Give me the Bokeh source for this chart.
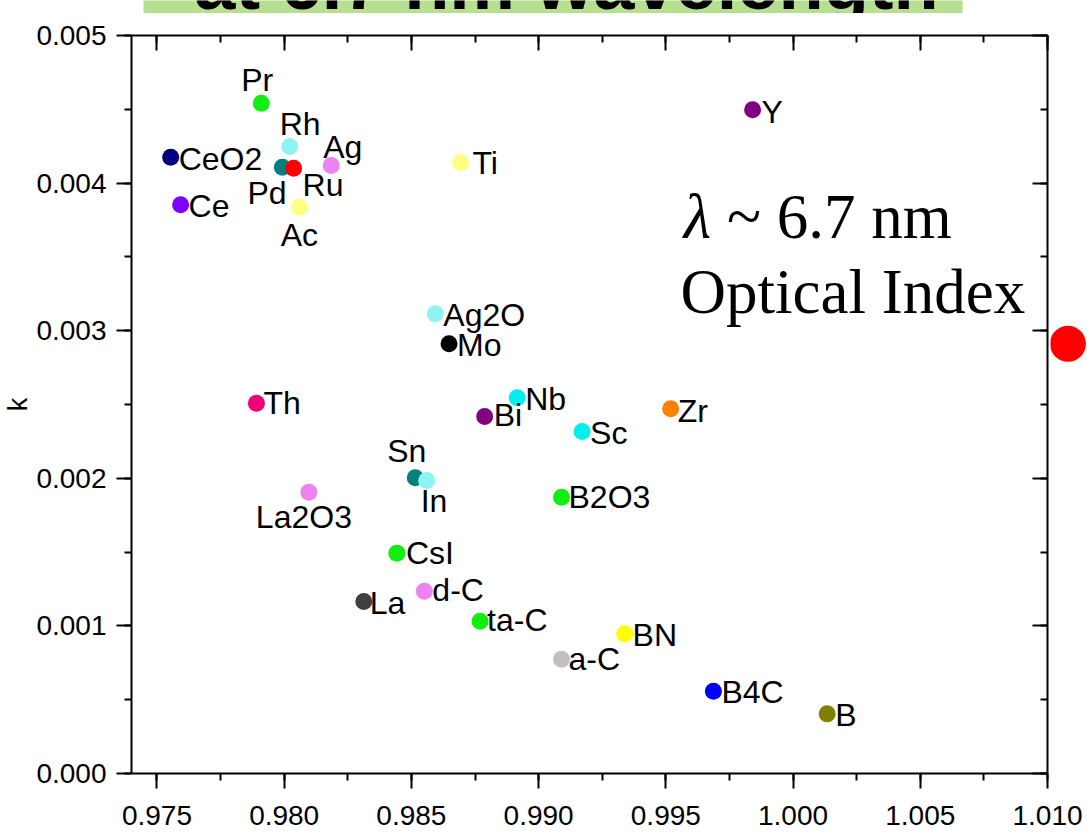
from bokeh.plotting import figure
from bokeh.layouts import column, row
from bokeh.models import (ColumnDataSource, LinearAxis, SingleIntervalTicker,
                          NumeralTickFormatter, CustomJSTickFormatter, Label, Range1d)
from bokeh.core.properties import value
from bokeh.embed import file_html
from bokeh.resources import INLINE

# ---- data (n = real part, k = imaginary part of refractive index at 6.7 nm) ----
materials = ["Pr", "Rh", "CeO2", "Pd", "Ru", "Ag", "Ce", "Ac", "Ti", "Y",
             "Ag2O", "Mo", "Th", "Nb", "Bi", "Sc", "Zr", "Sn", "In", "La2O3",
             "B2O3", "CsI", "La", "d-C", "ta-C", "BN", "a-C", "B4C", "B"]
n_values = [0.97910, 0.98022, 0.97554, 0.97993, 0.98037, 0.98185, 0.97593, 0.98061, 0.98693, 0.99841,
            0.98594, 0.98648, 0.97891, 0.98916, 0.98788, 0.99171, 0.99519, 0.98515, 0.98560, 0.98097,
            0.99090, 0.98443, 0.98313, 0.98551, 0.98770, 0.99338, 0.99090, 0.99687, 1.00134]
k_values = [0.004541, 0.004248, 0.004175, 0.004108, 0.004101, 0.004119, 0.003853, 0.003837, 0.004140, 0.004497,
            0.003114, 0.002911, 0.002509, 0.002545, 0.002419, 0.002317, 0.002471, 0.002003, 0.001985, 0.001906,
            0.001872, 0.001493, 0.001165, 0.001235, 0.001032, 0.000946, 0.000774, 0.000558, 0.000404]
colors = ["#11ee11", "#8ef3f3", "#000080", "#008080", "#ff0000", "#ee82ee", "#8000ff", "#ffff80", "#ffff80", "#800080",
          "#8ef3f3", "#000000", "#ee0077", "#00eeee", "#800080", "#00eeee", "#ff8000", "#008080", "#8ef3f3", "#ee82ee",
          "#11ee11", "#11ee11", "#404040", "#ee82ee", "#11ee11", "#ffff00", "#c0c0c0", "#0000ff", "#808000"]

# label placement (screen pixel offsets from the point)
label_dx = [-20, -10, 8, -35, 9, -8, 8, -19, 12, 9,
            8, 8, 7, 8, 9, 8, 7, -28, -6, -53,
            7, 9, 6, 8, 7, 8, 7, 8, 8]
label_dy = [-23, -22, 2, 26, 17, -19, 1, 28, 1, 2,
            1, 1, 0, 1, -1, 1, 2, -27, 20, 25,
            0, 0, 1, -1, -1, 1, 0, 1, 1]

x_ticks_interval = 0.005
y_ticks_interval = 0.001
x_limits = (0.974, 1.010)
y_limits = (0.0, 0.005)

# red pointer dot drawn beside the plot
marker_n, marker_k = [1.0108], [0.002911]

# ---- layout sizes (px) ----
W, H = 1087, 840
banner_h = 13
side_w = 37
b_left, b_right, b_top, b_bottom = 128, 40, 22, 67
frame_w = W - b_left - b_right
px_per_x = frame_w / (x_limits[1] - x_limits[0])

tick_font = "Liberation Sans"

def style_axis(ax, inward, show_labels):
    ax.axis_line_width = 2
    ax.axis_line_color = "black"
    ax.major_tick_line_width = 2
    ax.minor_tick_line_width = 2
    ax.major_tick_line_color = "black"
    ax.minor_tick_line_color = "black"
    if inward:
        ax.major_tick_in, ax.major_tick_out = 15, 0
        ax.minor_tick_in, ax.minor_tick_out = 7, 0
    else:
        ax.major_tick_in, ax.major_tick_out = 0, 15
        ax.minor_tick_in, ax.minor_tick_out = 0, 7
    ax.major_label_text_font = tick_font
    ax.major_label_text_color = "black"
    if show_labels:
        ax.major_label_text_font_size = "28px"
    else:
        ax.formatter = CustomJSTickFormatter(code="return ''")
        ax.major_label_text_font_size = "8px"
        ax.major_label_standoff = 0

# ---- banner (slide title, cut off at the top) ----
banner = figure(width=W, height=banner_h, x_range=Range1d(0, 1), y_range=Range1d(0, 1),
                output_backend="svg", toolbar_location=None,
                x_axis_location=None, y_axis_location=None,
                min_border_left=143, min_border_right=125, min_border_top=0, min_border_bottom=0)
banner.xgrid.visible = False
banner.ygrid.visible = False
banner.outline_line_color = None
banner.background_fill_color = "#b6df8f"
banner.border_fill_color = "white"
banner.text(x=[0.5165], y=[2.3], text=["at 6.7 nm wavelength"],
            text_font=value("Liberation Sans"), text_font_style="bold", text_font_size="74px",
            text_align="center", text_baseline="alphabetic", text_color="black")

# ---- main plot ----
src = ColumnDataSource(dict(x=n_values, y=k_values, name=materials, color=colors,
                            dx=label_dx, dy=label_dy))

p = figure(width=W, height=H - banner_h, x_range=Range1d(*x_limits), y_range=Range1d(*y_limits),
           output_backend="svg", toolbar_location=None,
           min_border_left=b_left, min_border_right=b_right, min_border_top=b_top, min_border_bottom=b_bottom)
p.xgrid.visible = False
p.ygrid.visible = False
p.outline_line_color = None
p.background_fill_color = "white"
p.border_fill_color = "white"

xa = p.xaxis[0]
xa.ticker = SingleIntervalTicker(interval=x_ticks_interval, num_minor_ticks=2)
xa.formatter = NumeralTickFormatter(format="0.000")
style_axis(xa, False, True)
xa.major_label_standoff = 17

ya = p.yaxis[0]
ya.ticker = SingleIntervalTicker(interval=y_ticks_interval, num_minor_ticks=2)
ya.formatter = NumeralTickFormatter(format="0.000")
style_axis(ya, False, True)
ya.major_label_standoff = 10
ya.axis_label = "k"
ya.axis_label_text_font = "Liberation Sans"
ya.axis_label_text_font_style = "normal"
ya.axis_label_text_font_size = "27px"
ya.axis_label_text_color = "black"
ya.axis_label_standoff = 0

top = LinearAxis(ticker=SingleIntervalTicker(interval=x_ticks_interval, num_minor_ticks=2))
style_axis(top, True, False)
p.add_layout(top, "above")
right = LinearAxis(ticker=SingleIntervalTicker(interval=y_ticks_interval, num_minor_ticks=2))
style_axis(right, True, False)
p.add_layout(right, "right")

p.scatter(x="x", y="y", source=src, size=17, fill_color="color", line_color=None)
p.text(x="x", y="y", text="name", source=src, x_offset="dx", y_offset="dy",
       text_font=value("Liberation Sans"), text_font_size="32px",
       text_align="left", text_baseline="alphabetic", text_color="black")

# in-plot caption
p.add_layout(Label(x=0.99570, y=0.003773, text="λ", text_font="Liberation Serif",
                   text_font_style="italic", text_font_size="63px", text_baseline="alphabetic",
                   text_color="black"))
p.add_layout(Label(x=0.99740, y=0.003773, text="~ 6.7 nm", text_font="Liberation Serif",
                   text_font_size="63px", text_baseline="alphabetic", text_color="black"))
p.add_layout(Label(x=0.99558, y=0.003265, text="Optical Index", text_font="Liberation Serif",
                   text_font_size="63px", text_baseline="alphabetic", text_color="black"))

# ---- transparent strip over the right border holding the red pointer dot ----
side_left = x_limits[1] + (b_right - side_w) / px_per_x
side_right = side_left + side_w / px_per_x
side = figure(width=side_w, height=H - banner_h, x_range=Range1d(side_left, side_right),
              y_range=p.y_range, output_backend="svg", toolbar_location=None,
              x_axis_location=None, y_axis_location=None,
              min_border_left=0, min_border_right=0, min_border_top=b_top, min_border_bottom=b_bottom,
              margin=(0, 0, 0, -side_w))
side.xgrid.visible = False
side.ygrid.visible = False
side.outline_line_color = None
side.background_fill_alpha = 0
side.border_fill_alpha = 0
side.scatter(x=marker_n, y=marker_k, size=36, fill_color="#ff0000", line_color=None)

layout = column(banner, row(p, side, spacing=0), spacing=0)
open("out.html", "w").write(file_html(layout, INLINE))
